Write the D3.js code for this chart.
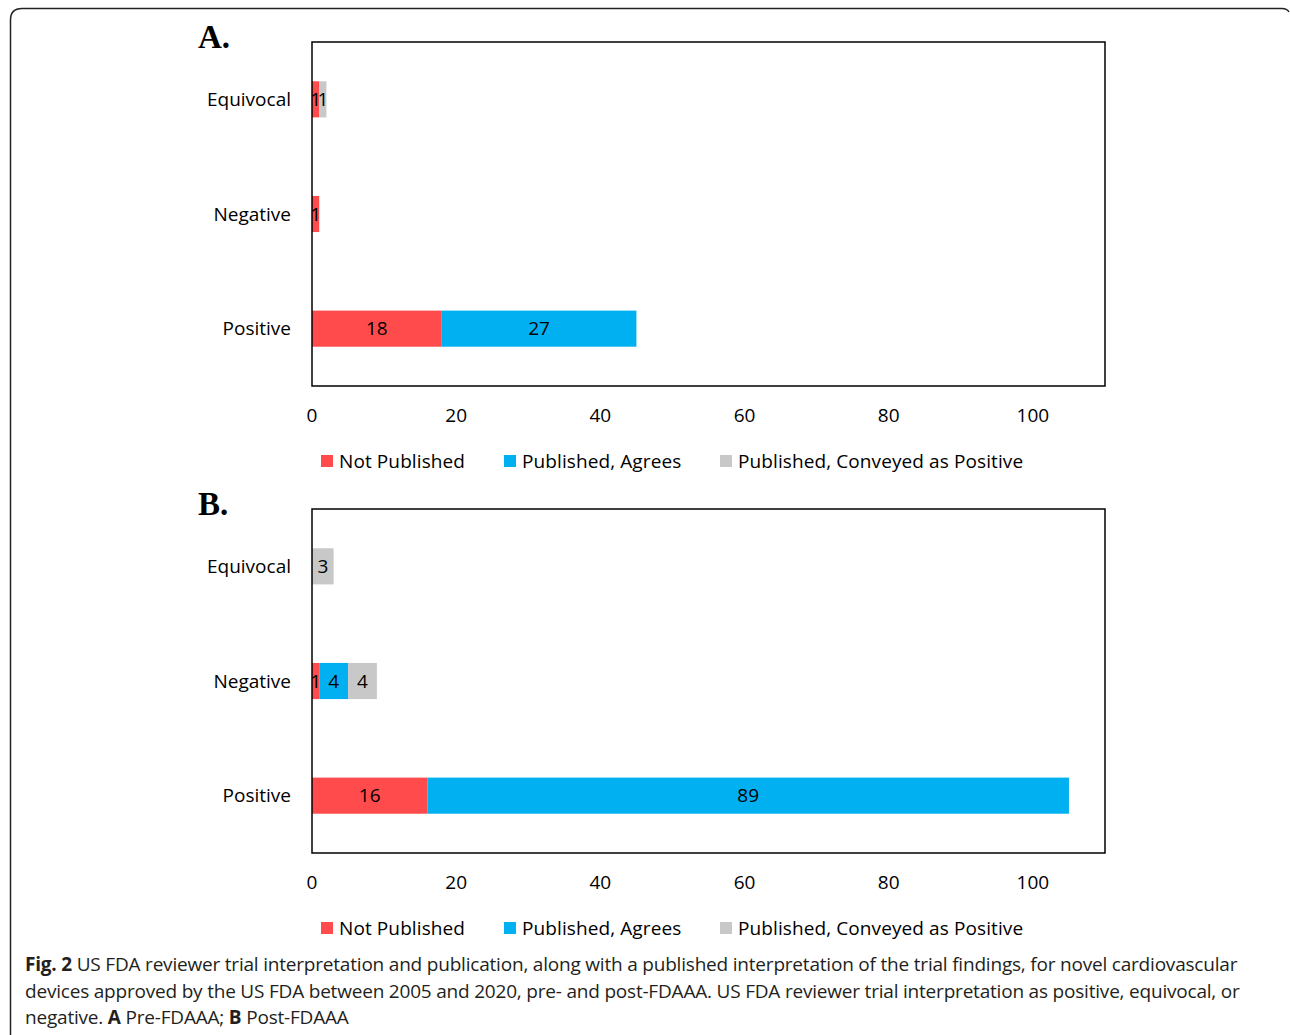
<!DOCTYPE html>
<html>
<head>
<meta charset="utf-8">
<script src="https://cdn.jsdelivr.net/npm/d3@7"></script>
<style>
  body { margin: 0; background: #fff; }
  svg { display: block; }
</style>
</head>
<body>
<div id="chart"></div>
<script>
// data
var categories = ['Equivocal', 'Negative', 'Positive'];
var series = ['Not Published', 'Published, Agrees', 'Published, Conveyed as Positive'];
var colors = ['#FF4B4B', '#00B0F0', '#C8C8C8'];

// panel A: pre-FDAAA
var preNotPublished = [1, 1, 18];
var preAgrees = [0, 0, 27];
var preConveyed = [1, 0, 0];

// panel B: post-FDAAA
var postNotPublished = [0, 1, 16];
var postAgrees = [0, 4, 89];
var postConveyed = [3, 4, 0];

var tickValues = [0, 20, 40, 60, 80, 100];

var panels = [
	{ letter: 'A.', top: 42, values: [preNotPublished, preAgrees, preConveyed] },
	{ letter: 'B.', top: 509, values: [postNotPublished, postAgrees, postConveyed] }
];

// chart settings
var width = 1290, height = 1035;
var plot_left = 312, plot_right = 1105, plot_height = 344;
var label_font = "'Open Sans', 'DejaVu Sans', sans-serif";

var svg = d3.select('#chart')
	.append('svg')
	.attr('width', width)
	.attr('height', height);

// outer frame
svg.append('path')
	.attr('d', 'M10.5,1040 L10.5,20 Q10.5,8.5 22,8.5 L1282,8.5 Q1287,8.5 1289,12')
	.attr('fill', 'none')
	.attr('stroke', '#222')
	.attr('stroke-width', 1.5);

var x_scale = d3.scaleLinear()
	.domain([0, 110])
	.range([plot_left, plot_right]);

panels.forEach(function (p) {
	var rows = categories.map(function (c, i) {
		var obj = { category: c };
		series.forEach(function (s, j) { obj[s] = p.values[j][i]; });
		return obj;
	});
	var stacked = d3.stack().keys(series)(rows);

	var y_scale = d3.scaleBand()
		.domain(categories)
		.range([p.top, p.top + plot_height])
		.paddingInner(0.685)
		.paddingOuter(0.3425);

	var g = svg.append('g');

	// panel letter
	g.append('text')
		.attr('x', 198)
		.attr('y', p.top + 6)
		.attr('font-family', "'Liberation Serif', 'DejaVu Serif', serif")
		.attr('font-weight', 'bold')
		.attr('font-size', 33)
		.text(p.letter);

	// bars
	var groups = g.selectAll('g.series')
		.data(stacked)
		.enter()
		.append('g')
		.attr('fill', function (d, i) { return colors[i]; });

	groups.selectAll('rect')
		.data(function (d) { return d.filter(function (v) { return v[1] - v[0] > 0; }); })
		.enter()
		.append('rect')
		.attr('x', function (d) { return x_scale(d[0]); })
		.attr('y', function (d) { return y_scale(d.data.category); })
		.attr('width', function (d) { return x_scale(d[1]) - x_scale(d[0]); })
		.attr('height', y_scale.bandwidth());

	groups.selectAll('text')
		.data(function (d) { return d.filter(function (v) { return v[1] - v[0] > 0; }); })
		.enter()
		.append('text')
		.attr('x', function (d) { return (x_scale(d[0]) + x_scale(d[1])) / 2; })
		.attr('y', function (d) { return y_scale(d.data.category) + y_scale.bandwidth() / 2; })
		.attr('dy', '0.35em')
		.attr('text-anchor', 'middle')
		.attr('fill', '#000')
		.attr('font-family', label_font)
		.attr('font-size', 19)
		.text(function (d) { return d[1] - d[0]; });

	// plot border
	g.append('rect')
		.attr('x', plot_left)
		.attr('y', p.top)
		.attr('width', plot_right - plot_left)
		.attr('height', plot_height)
		.attr('fill', 'none')
		.attr('stroke', '#000')
		.attr('stroke-width', 1.5);

	// category labels
	g.selectAll('text.cat')
		.data(categories)
		.enter()
		.append('text')
		.attr('class', 'cat')
		.attr('x', 291)
		.attr('y', function (d) { return y_scale(d) + y_scale.bandwidth() / 2; })
		.attr('dy', '0.35em')
		.attr('text-anchor', 'end')
		.attr('font-family', label_font)
		.attr('font-size', 19)
		.text(function (d) { return d; });

	// x axis ticks
	g.selectAll('text.tick')
		.data(tickValues)
		.enter()
		.append('text')
		.attr('class', 'tick')
		.attr('x', function (d) { return x_scale(d); })
		.attr('y', p.top + plot_height + 29)
		.attr('dy', '0.35em')
		.attr('text-anchor', 'middle')
		.attr('font-family', label_font)
		.attr('font-size', 19)
		.text(function (d) { return d; });

	// legend
	var legend_x = [321, 504, 720];
	var legend = g.selectAll('g.legend')
		.data(series)
		.enter()
		.append('g')
		.attr('transform', function (d, i) { return 'translate(' + legend_x[i] + ',' + (p.top + plot_height + 75) + ')'; });
	legend.append('rect')
		.attr('x', 0)
		.attr('y', -6)
		.attr('width', 12)
		.attr('height', 12)
		.attr('fill', function (d, i) { return colors[i]; });
	legend.append('text')
		.attr('x', 18)
		.attr('dy', '0.35em')
		.attr('font-family', label_font)
		.attr('font-size', 19)
		.attr('letter-spacing', 0.1)
		.text(function (d) { return d; });
});

// caption
var caption = svg.append('text')
	.attr('font-family', "'Open Sans', 'DejaVu Sans', sans-serif")
	.attr('font-size', 19)
	.attr('letter-spacing', -0.2)
	.attr('fill', '#231f20');
var lines = [
	[['Fig. 2', true], [' US FDA reviewer trial interpretation and publication, along with a published interpretation of the trial findings, for novel cardiovascular', false]],
	[['devices approved by the US FDA between 2005 and 2020, pre- and post-FDAAA. US FDA reviewer trial interpretation as positive, equivocal, or', false]],
	[['negative. ', false], ['A', true], [' Pre-FDAAA; ', false], ['B', true], [' Post-FDAAA', false]]
];
lines.forEach(function (line, i) {
	var t = caption.append('tspan')
		.attr('x', 25)
		.attr('y', 971 + i * 26.5);
	line.forEach(function (part, j) {
		var s = j === 0 ? t : caption.append('tspan');
		s.text(part[0]).attr('font-weight', part[1] ? 'bold' : 'normal');
	});
});
</script>
</body>
</html>
